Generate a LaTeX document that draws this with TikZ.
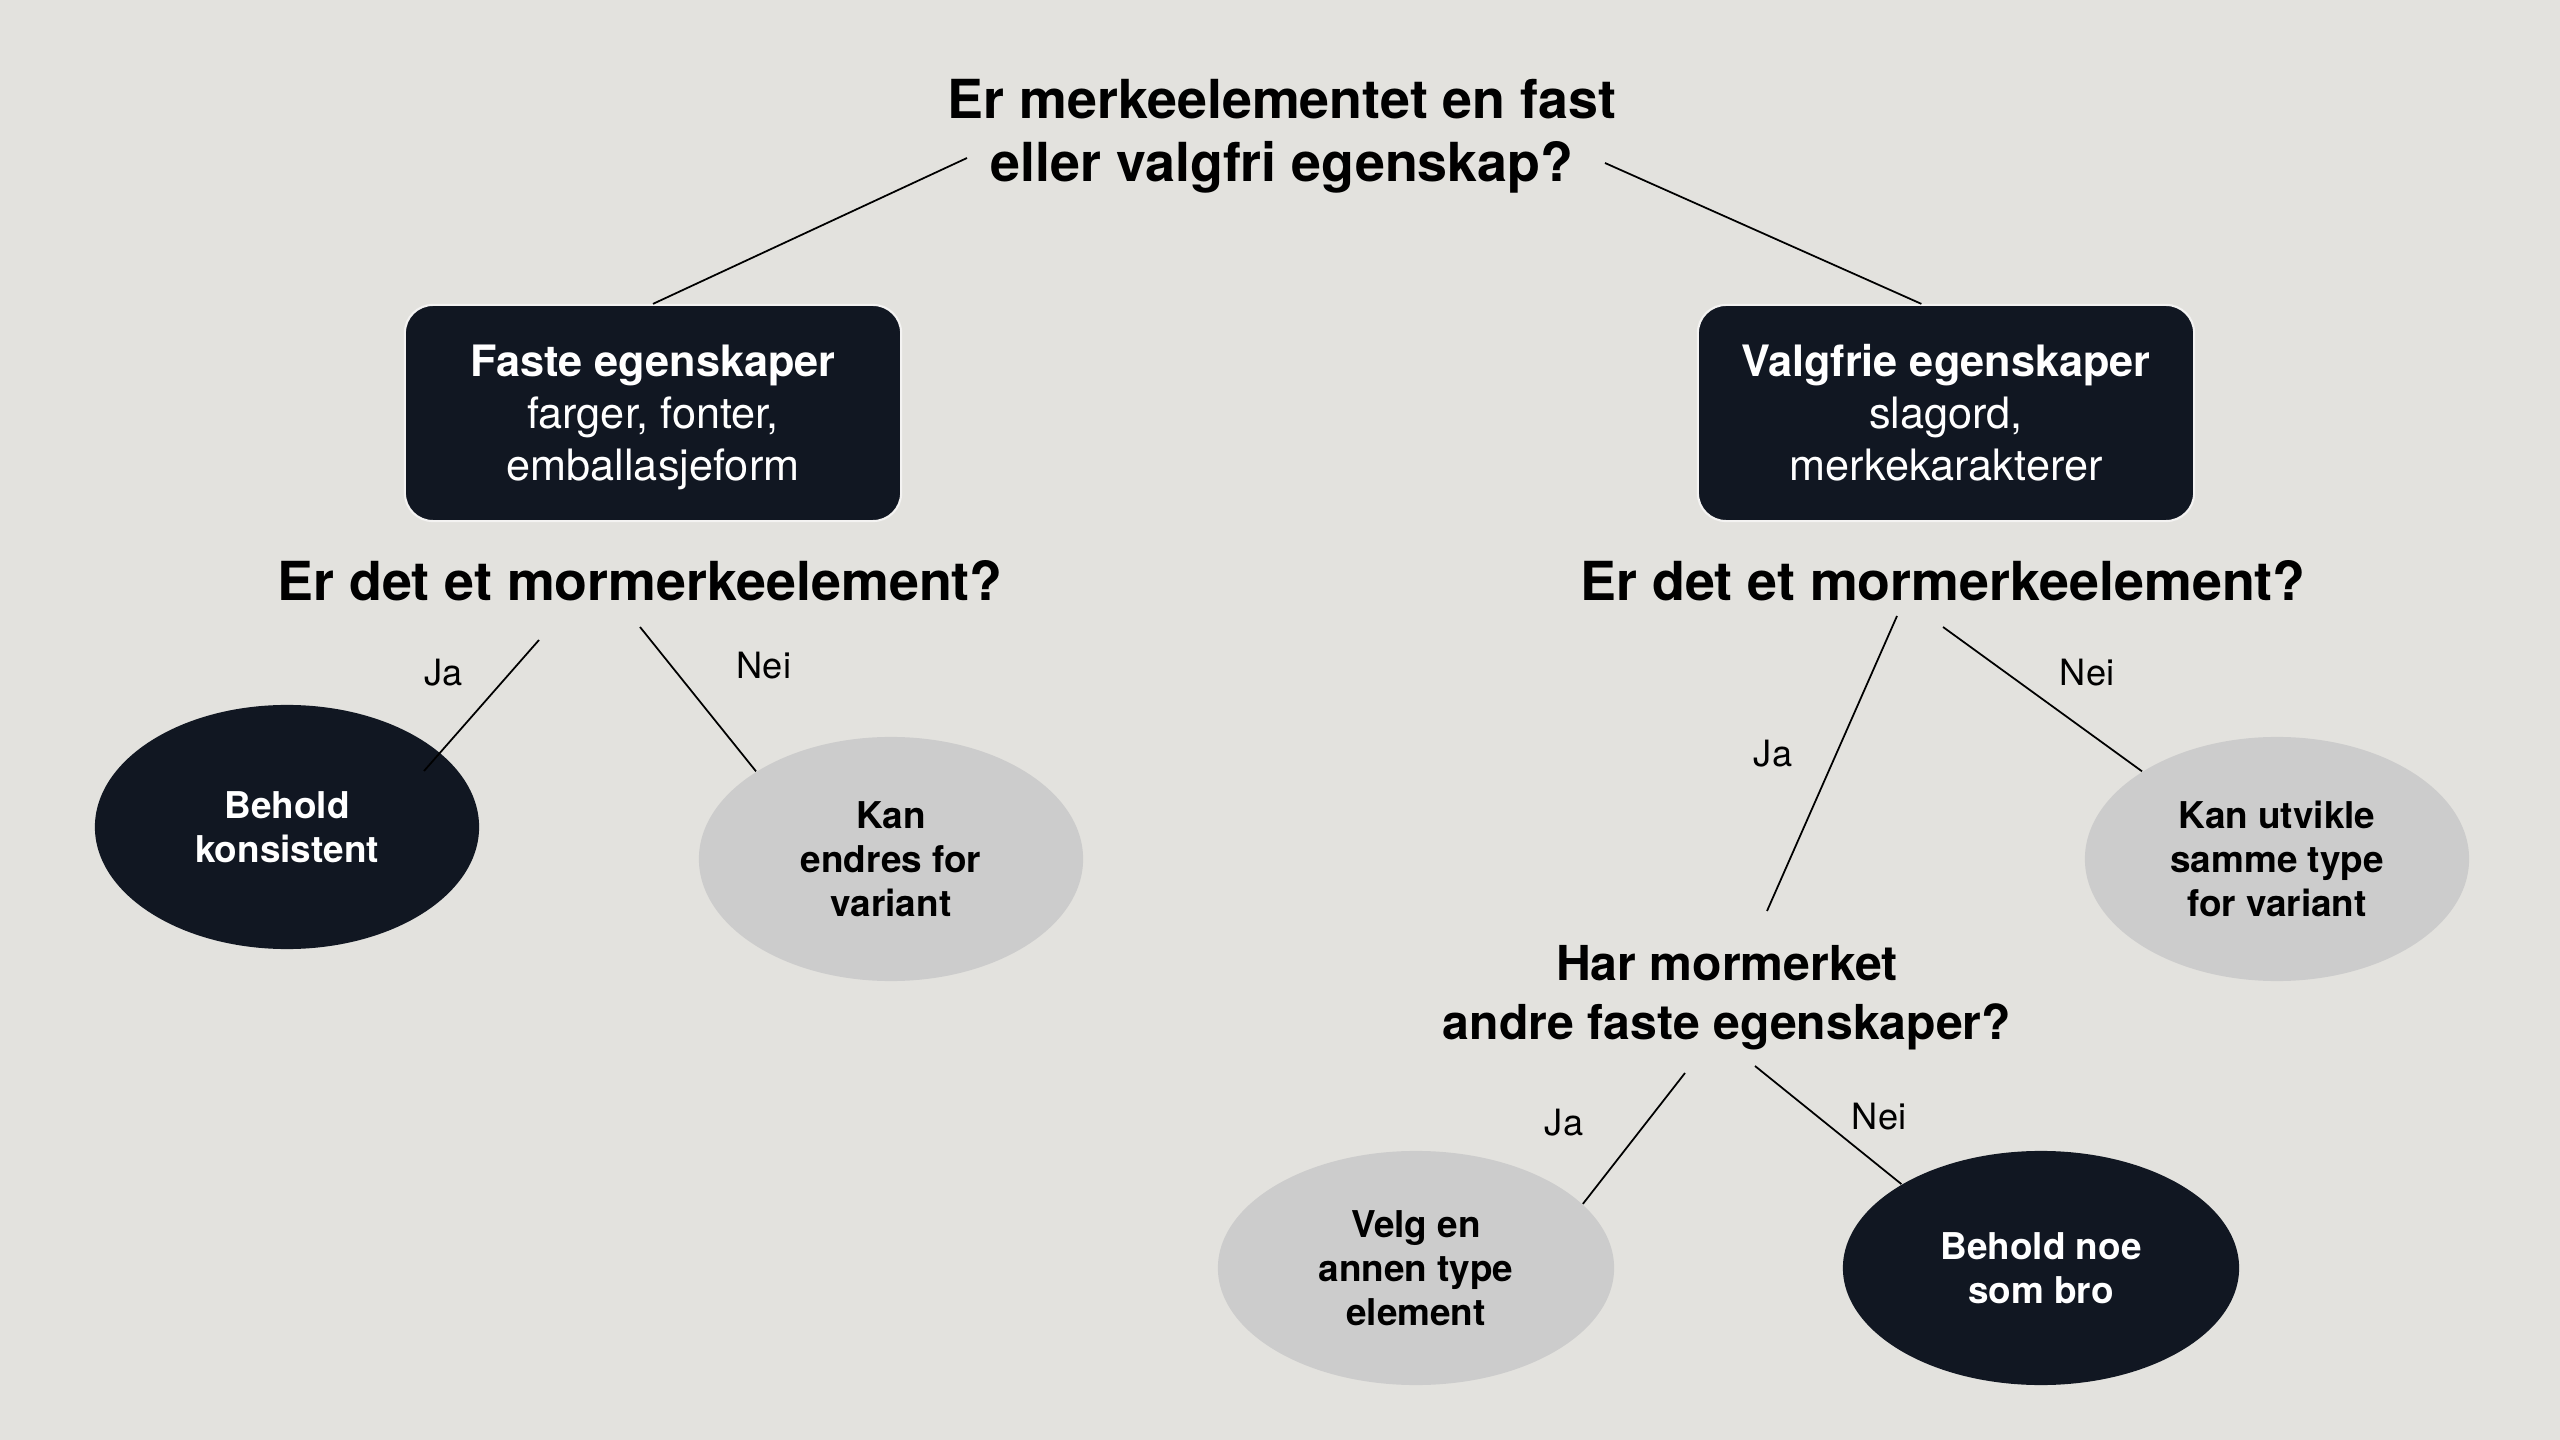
\documentclass[tikz,border=0pt]{standalone}
\usepackage{fontspec}
\setmainfont{TeX Gyre Heros}
\usepackage{xcolor}
\usepackage{tikz}
\usetikzlibrary{shapes.geometric}

\definecolor{paper}{HTML}{E3E2DE}
\definecolor{ink}{HTML}{111722}
\definecolor{pale}{HTML}{CCCCCC}

\tikzset{
  question/.style={font=\fontsize{15.3}{18}\selectfont\bfseries, align=center, inner sep=0pt},
  propbox/.style={rectangle, rounded corners=8pt, fill=ink, draw=white!60!paper, line width=0.6pt,
    text=white, align=center, minimum width=4.96cm, minimum height=2.16cm,
    font=\fontsize{12.3}{14.8}\selectfont},
  leaf/.style={ellipse, inner sep=0pt, align=center, minimum width=3.84cm, minimum height=2.44cm,
    font=\fontsize{10.5}{12.5}\selectfont\bfseries},
  wideleaf/.style={leaf, minimum width=3.96cm, minimum height=2.34cm},
  darkleaf/.style={fill=ink, text=white},
  paleleaf/.style={fill=pale, text=black},
  answer/.style={font=\fontsize{10.3}{12}\selectfont, inner sep=0pt},
  branch/.style={line width=0.5pt, black}
}

\begin{document}
\begin{tikzpicture}[x=0.01cm, y=-0.01cm]
  \fill[paper] (0,0) rectangle (2560,1440);
  \useasboundingbox (0,0) rectangle (2560,1440);

  \node[question] (title) at (1282,136) {Er merkeelementet en fast\\eller valgfri egenskap?};

  \node[propbox] (fast) at (653,413) {\textbf{Faste egenskaper}\\farger, fonter,\\\smash{emballasjeform}};
  \node[propbox] (valg) at (1946,413) {\textbf{Valgfrie egenskaper}\\slagord,\\merkekarakterer};

  \node[question] (qfast) at (640,581) {Er det et mormerkeelement?};
  \node[question] (qvalg) at (1943,581) {Er det et mormerkeelement?};
  \node[question, font=\fontsize{13.7}{16.8}\selectfont\bfseries] (qbro) at (1727,998)
    {Har mormerket\\andre faste egenskaper?};

  \node[leaf, darkleaf] (keep) at (287,827) {Behold\\konsistent};
  \node[leaf, paleleaf] (endres) at (891,859) {Kan\\endres for\\variant};
  \node[leaf, paleleaf] (utvikle) at (2277,859) {Kan utvikle\\samme type\\for variant};
  \node[wideleaf, paleleaf] (velg) at (1416,1268) {Velg en\\annen type\\element};
  \node[wideleaf, darkleaf] (bro) at (2041,1268) {Behold noe\\som bro};

  \coordinate (tleft) at (967,158);
  \coordinate (tright) at (1605,163);
  \coordinate (jafast) at (539,640);
  \coordinate (jakeep) at (424,771);
  \coordinate (neifast) at (640,627);
  \coordinate (javalg) at (1897,616);
  \coordinate (jabro) at (1767,911);
  \coordinate (neivalg) at (1943,627);
  \coordinate (javelg) at (1685,1073);
  \coordinate (neibro) at (1755,1066);

  \draw[branch] (tleft) -- (fast.north);
  \draw[branch] (tright) -- ([xshift=-7pt]valg.north);
  \draw[branch] (jafast) -- (jakeep);
  \draw[branch] (neifast) -- (endres.147);
  \draw[branch] (javalg) -- (jabro);
  \draw[branch] (neivalg) -- (utvikle.147);
  \draw[branch] (javelg) -- (velg.21);
  \draw[branch] (neibro) -- (bro.149);

  \node[answer] (ja1) at (444,673) {Ja};
  \node[answer] (nei1) at (764,666) {Nei};
  \node[answer] (ja2) at (1773,754) {Ja};
  \node[answer] (nei2) at (2087,673) {Nei};
  \node[answer] (ja3) at (1564,1123) {Ja};
  \node[answer] (nei3) at (1879,1117) {Nei};
\end{tikzpicture}
\end{document}
